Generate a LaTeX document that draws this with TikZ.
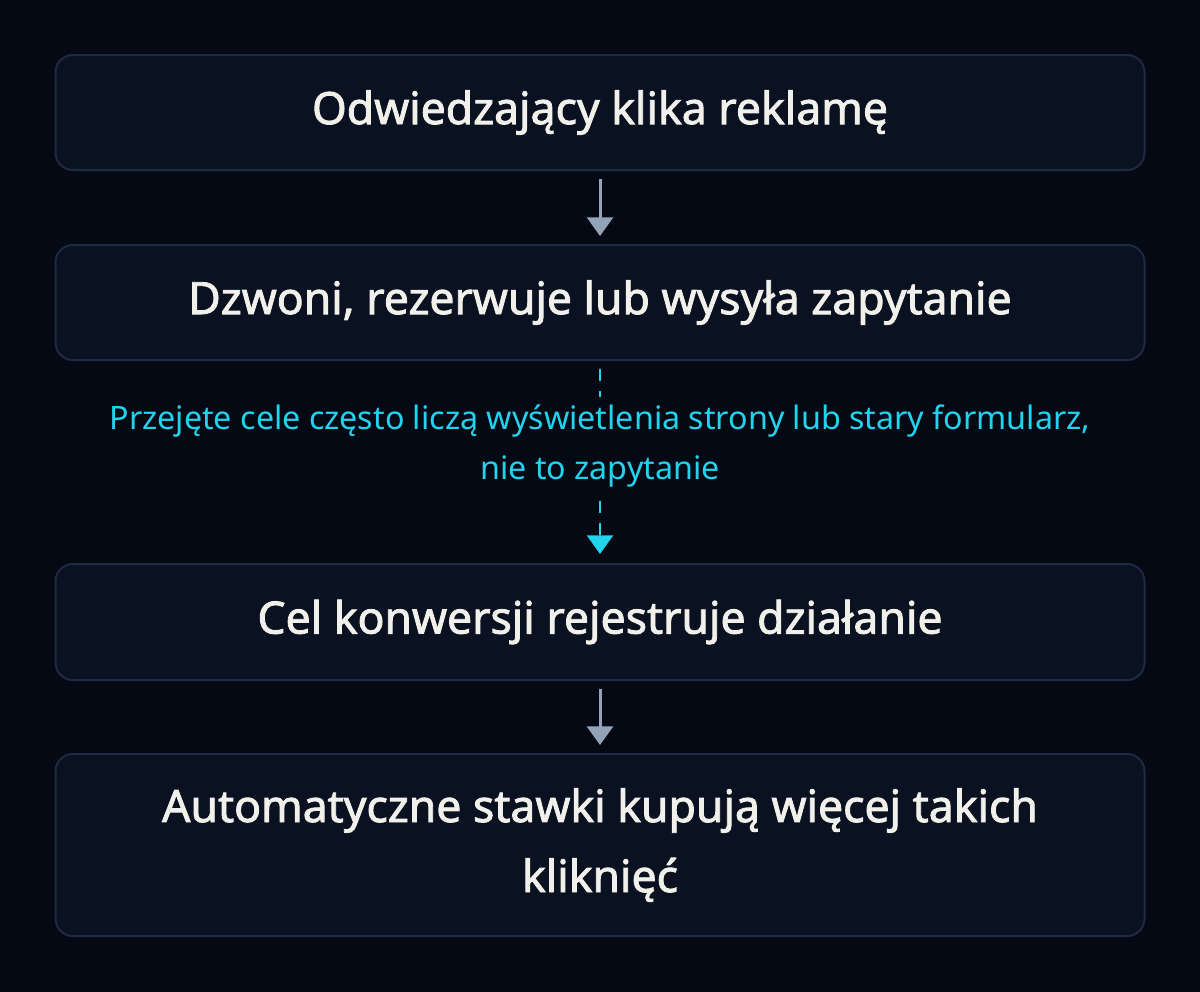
\documentclass[tikz,border=0pt]{standalone}
\usepackage{fontspec}
\setmainfont{Noto Sans}
\newfontfamily\stepfont{Noto Sans}[FakeBold=1.9]
\usetikzlibrary{arrows.meta}

\definecolor{bgcol}{HTML}{050914}
\definecolor{boxfill}{HTML}{0A1120}
\definecolor{boxline}{HTML}{1E2A44}
\definecolor{boxtext}{HTML}{F1F0EA}
\definecolor{flowgray}{HTML}{94A3B8}
\definecolor{notecyan}{HTML}{22D3EE}

\tikzset{
	stepbox/.style={draw=boxline, line width=1.5pt, fill=boxfill, rounded corners=13pt,
		minimum width=816.75pt, text=boxtext, align=center,
		font=\stepfont\fontsize{33.4}{52.5}\selectfont},
	flowarrow/.style={draw=flowgray, line width=2.25pt, shorten <=6pt, shorten >=6pt,
		-{Triangle[width=19.5pt,length=14pt]}},
	notearrow/.style={draw=notecyan, line width=1.8pt, dash pattern=on 9pt off 7.5pt,
		shorten <=6pt, shorten >=6.75pt, -{Triangle[width=19.5pt,length=14pt]}},
	notetext/.style={fill=bgcol, text=notecyan, align=center, inner sep=6pt,
		font=\fontsize{24.2}{37.5}\selectfont}
}

\begin{document}
\begin{tikzpicture}[x=0.75pt,y=-0.75pt]
	
	%Background
	\fill[bgcol] (0,0) rectangle (1200,992);
	\useasboundingbox (0,0) rectangle (1200,992);
	
	%Steps
	\node[stepbox, minimum height=86.25pt] (click) at (600,112.5) {Odwiedzający klika reklamę};
	
	\node[stepbox, minimum height=86.25pt] (contact) at (600,302.5) {Dzwoni, rezerwuje lub wysyła zapytanie};
	
	\node[stepbox, minimum height=87pt] (goal) at (600,622) {Cel konwersji rejestruje działanie};
	
	\node[stepbox, minimum height=136.5pt] (bidding) at (600,845) {Automatyczne stawki kupują więcej takich\\kliknięć};
	
	%Flow
	\draw[flowarrow] (click) -- (contact);
	
	\draw[notearrow] (contact) -- node[notetext, yshift=12pt] (note) {Przejęte cele często liczą wyświetlenia strony lub stary formularz,\\nie to zapytanie} (goal);
	
	\draw[flowarrow] (goal) -- (bidding);
	
\end{tikzpicture}
\end{document}
